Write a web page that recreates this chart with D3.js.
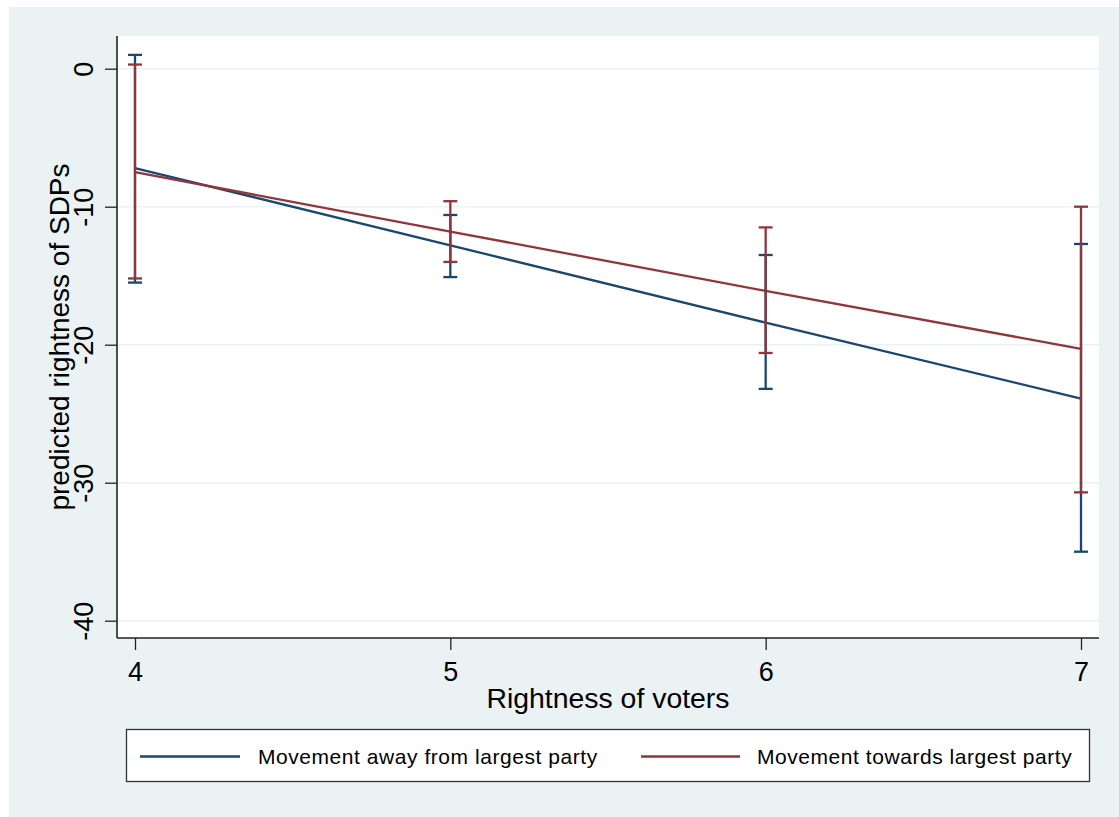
<!DOCTYPE html>
<html>
<head>
<meta charset="utf-8">
<script src="https://cdn.jsdelivr.net/npm/d3@7"></script>
<style>
  html, body { margin: 0; padding: 0; background: #ffffff; }
  svg { display: block; }
  text { font-family: "Liberation Sans", Arial, sans-serif; fill: #000; }
</style>
</head>
<body>
<svg id="chart" width="1119" height="817"></svg>
<script>
// ---- data ----
const xValues = [4, 5, 6, 7];
const awayEstimate = [-7.2, -12.8, -18.4, -23.9];
const awayLower = [-15.5, -15.1, -23.2, -35.0];
const awayUpper = [1.0, -10.6, -13.5, -12.7];
const towardsEstimate = [-7.5, -11.8, -16.1, -20.3];
const towardsLower = [-15.2, -14.0, -20.6, -30.7];
const towardsUpper = [0.3, -9.6, -11.5, -10.0];
const yTicks = [0, -10, -20, -30, -40];
const yTickLabels = ["0", "-10", "-20", "-30", "-40"];
const xTicks = [4, 5, 6, 7];
const xTickLabels = ["4", "5", "6", "7"];
const seriesNames = ["Movement away from largest party", "Movement towards largest party"];
const xTitle = "Rightness of voters";
const yTitle = "predicted rightness of SDPs";

// ---- styles ----
const bg = "#EAF2F3";
const blue = "#1a476f";
const red = "#90353b";

const svg = d3.select("#chart");
svg.append("rect").attr("x", 9).attr("y", 7).attr("width", 1110).attr("height", 810).attr("fill", bg);

const plot = { left: 117, right: 1099, top: 36, bottom: 638 };
svg.append("rect").attr("x", plot.left).attr("y", plot.top)
  .attr("width", plot.right - plot.left).attr("height", plot.bottom - plot.top).attr("fill", "#fff");

const x = d3.scaleLinear().domain([4, 7]).range([135, 1081]);
const y = d3.scaleLinear().domain([-40, 0]).range([620.7, 68.7]);

// gridlines
svg.append("g").selectAll("line").data(yTicks).join("line")
  .attr("x1", plot.left).attr("x2", plot.right)
  .attr("y1", d => y(d)).attr("y2", d => y(d))
  .attr("stroke", bg).attr("stroke-width", 1.6);

// axes
const yAxis = d3.axisLeft(y).tickValues(yTicks).tickSize(12).tickPadding(0)
  .tickFormat((d, i) => yTickLabels[i]);
const gy = svg.append("g").attr("transform", `translate(${plot.left},0)`).call(yAxis);
gy.select(".domain").remove();
gy.selectAll(".tick line").attr("stroke", "#222").attr("stroke-width", 1.3);
gy.selectAll(".tick text").remove();
gy.selectAll(".tick").append("text")
  .attr("transform", "translate(-24,0) rotate(-90)")
  .attr("text-anchor", "middle").attr("dy", 0)
  .style("font-size", "27px").style("fill", "#000")
  .text((d, i) => yTickLabels[i]);
svg.append("line").attr("x1", plot.left).attr("x2", plot.left)
  .attr("y1", plot.top).attr("y2", plot.bottom).attr("stroke", "#222").attr("stroke-width", 1.6);

const xAxis = d3.axisBottom(x).tickValues(xTicks).tickSize(12).tickPadding(0)
  .tickFormat((d, i) => xTickLabels[i]);
const gx = svg.append("g").attr("transform", `translate(0,${plot.bottom})`).call(xAxis);
gx.select(".domain").remove();
gx.selectAll(".tick line").attr("stroke", "#222").attr("stroke-width", 1.3);
gx.selectAll(".tick text").attr("y", 43).attr("dy", 0)
  .style("font-size", "27px").style("fill", "#000")
  .style("font-family", "'Liberation Sans', Arial, sans-serif");
svg.append("line").attr("x1", plot.left).attr("x2", plot.right)
  .attr("y1", plot.bottom).attr("y2", plot.bottom).attr("stroke", "#222").attr("stroke-width", 1.6);

// titles
svg.append("text").attr("x", (plot.left + plot.right) / 2).attr("y", 708)
  .attr("text-anchor", "middle").style("font-size", "28.4px").text(xTitle);
svg.append("text").attr("transform", `translate(69,${(plot.top + plot.bottom) / 2}) rotate(-90)`)
  .attr("text-anchor", "middle").style("font-size", "28px").text(yTitle);

// series
const series = [
  { est: awayEstimate, lo: awayLower, hi: awayUpper, color: blue },
  { est: towardsEstimate, lo: towardsLower, hi: towardsUpper, color: red }
];
const line = d3.line().x((d, i) => x(xValues[i])).y(d => y(d));
series.forEach(s => {
  svg.append("path").datum(s.est).attr("d", line)
    .attr("fill", "none").attr("stroke", s.color).attr("stroke-width", 2.3);
});
const capHalf = 7;
series.forEach(s => {
  const g = svg.append("g").attr("stroke", s.color).attr("stroke-width", 2.3);
  xValues.forEach((xv, i) => {
    g.append("line").attr("x1", x(xv)).attr("x2", x(xv)).attr("y1", y(s.lo[i])).attr("y2", y(s.hi[i]));
    g.append("line").attr("x1", x(xv) - capHalf).attr("x2", x(xv) + capHalf).attr("y1", y(s.lo[i])).attr("y2", y(s.lo[i]));
    g.append("line").attr("x1", x(xv) - capHalf).attr("x2", x(xv) + capHalf).attr("y1", y(s.hi[i])).attr("y2", y(s.hi[i]));
  });
});

// legend
svg.append("rect").attr("x", 126.5).attr("y", 729.5).attr("width", 963).attr("height", 52)
  .attr("fill", "#fff").attr("stroke", "#333").attr("stroke-width", 1.3);
const legendItems = [
  { name: seriesNames[0], color: blue, x0: 140, x1: 240, tx: 258 },
  { name: seriesNames[1], color: red, x0: 641, x1: 740, tx: 757 }
];
legendItems.forEach(it => {
  svg.append("line").attr("x1", it.x0).attr("x2", it.x1).attr("y1", 756.5).attr("y2", 756.5)
    .attr("stroke", it.color).attr("stroke-width", 2.3);
  svg.append("text").attr("x", it.tx).attr("y", 763.5).style("font-size", "21px")
    .style("letter-spacing", "0.55px").text(it.name);
});
</script>
</body>
</html>
